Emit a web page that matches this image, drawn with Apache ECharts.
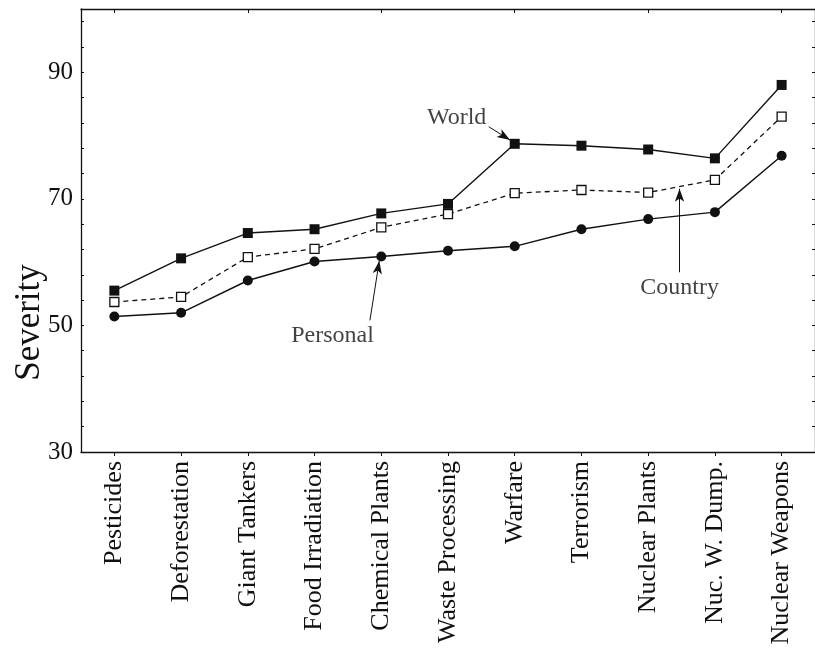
<!DOCTYPE html>
<html><head><meta charset="utf-8">
<script src="https://cdn.jsdelivr.net/npm/echarts@6/dist/echarts.min.js"></script>
<style>html,body{margin:0;padding:0;background:#fff}#c{width:815px;height:648px}</style>
</head><body><div id="c"></div>
<script>
// ---- data ----
const categories = ['Pesticides','Deforestation','Giant Tankers','Food Irradiation','Chemical Plants','Waste Processing','Warfare','Terrorism','Nuclear Plants','Nuc. W. Dump.','Nuclear Weapons'];
const worldValues    = [55.5, 60.6, 64.6, 65.2, 67.7, 69.2, 78.7, 78.4, 77.8, 76.4, 88.0];
const countryValues  = [53.7, 54.5, 60.8, 62.1, 65.5, 67.6, 70.9, 71.4, 71.0, 73.0, 83.0];
const personalValues = [51.4, 52.0, 57.1, 60.1, 60.9, 61.8, 62.5, 65.2, 66.8, 67.9, 76.8];
const yTickLabels = [30, 50, 70, 90];
// annotations (category index, severity)
const annotationLabels = ['World', 'Personal', 'Country'];
const annotationTextAt = [[5.13, 82.8], [3.27, 48.3], [8.47, 56.0]];
const annotationArrows = [
  [[5.61, 81.4], [5.93, 79.3]],
  [[3.83, 50.8], [3.97, 60.2]],
  [[8.47, 58.4], [8.47, 71.6]]
];

const FONT = '"Liberation Serif", "DejaVu Serif", serif';
const INK = '#111';

const chart = echarts.init(document.getElementById('c'), null, {renderer: 'canvas'});
chart.setOption({
  backgroundColor: '#fff',
  animation: false,
  grid: {left: 81, right: 0, top: 9, bottom: 196, containLabel: false, outerBoundsMode: 'none'},
  xAxis: [
    {
      type: 'category', data: categories, position: 'bottom', boundaryGap: true,
      axisLine: {show: true, onZero: false, lineStyle: {color: INK, width: 1.3}},
      axisTick: {show: true, alignWithLabel: true, inside: false, length: 4, lineStyle: {color: INK}},
      axisLabel: {rotate: 90, margin: 9, fontFamily: FONT, fontSize: 26, color: INK},
      splitLine: {show: false}
    },
    {
      type: 'category', data: categories, position: 'top', boundaryGap: true,
      axisLine: {show: true, onZero: false, lineStyle: {color: INK, width: 1.3}},
      axisTick: {show: true, alignWithLabel: true, inside: true, length: 4, lineStyle: {color: INK}},
      axisLabel: {show: false}, splitLine: {show: false}
    },
    {
      type: 'value', show: false, min: -0.5, max: 10.5, position: 'bottom',
      axisLine: {onZero: false}
    }
  ],
  yAxis: [
    {
      type: 'value', min: 30, max: 100, interval: 4, position: 'left',
      name: 'Severity', nameLocation: 'middle', nameGap: 34, nameMoveOverlap: false,
      nameTextStyle: {fontFamily: FONT, fontSize: 35, color: INK, padding: [0, 184, 0, 0]},
      axisLine: {show: true, onZero: false, lineStyle: {color: INK, width: 1.3}},
      axisTick: {show: true, inside: true, length: 3, lineStyle: {color: INK}},
      axisLabel: {
        margin: 8, fontFamily: FONT, fontSize: 25, color: INK,
        formatter: v => yTickLabels.indexOf(v) >= 0 ? String(v) : ''
      },
      splitLine: {show: false}
    },
    {
      type: 'value', min: 30, max: 100, interval: 4, position: 'right',
      axisLine: {show: true, onZero: false, lineStyle: {color: INK, width: 1.3}},
      axisTick: {show: true, inside: true, length: 3, lineStyle: {color: INK}},
      axisLabel: {show: false}, splitLine: {show: false}
    }
  ],
  series: [
    {
      name: 'World', type: 'line', data: worldValues, xAxisIndex: 0, yAxisIndex: 0,
      symbol: 'rect', symbolSize: 10, showAllSymbol: true,
      lineStyle: {color: INK, width: 1.4},
      itemStyle: {color: INK}
    },
    {
      name: 'Country', type: 'line', data: countryValues, xAxisIndex: 0, yAxisIndex: 0,
      symbol: 'rect', symbolSize: 9, showAllSymbol: true,
      lineStyle: {color: INK, width: 1.3, type: [5, 4]},
      itemStyle: {color: '#fff', borderColor: INK, borderWidth: 1.3}
    },
    {
      name: 'Personal', type: 'line', data: personalValues, xAxisIndex: 0, yAxisIndex: 0,
      symbol: 'circle', symbolSize: 10, showAllSymbol: true,
      lineStyle: {color: INK, width: 1.4},
      itemStyle: {color: INK}
    },
    {
      name: 'annotations', type: 'scatter', xAxisIndex: 2, yAxisIndex: 0,
      data: annotationTextAt.map((p, i) => [p[0], p[1], annotationLabels[i]]),
      symbolSize: 0, silent: true,
      label: {show: true, position: 'inside', formatter: p => p.value[2],
              fontFamily: FONT, fontSize: 24, color: INK},
      markLine: {
        silent: true, symbol: ['none', 'arrow'], symbolSize: [7, 13],
        lineStyle: {color: INK, width: 1, type: 'solid'},
        label: {show: false},
        data: annotationArrows.map(a => [{coord: a[0]}, {coord: a[1]}])
      }
    }
  ]
});
</script></body></html>
